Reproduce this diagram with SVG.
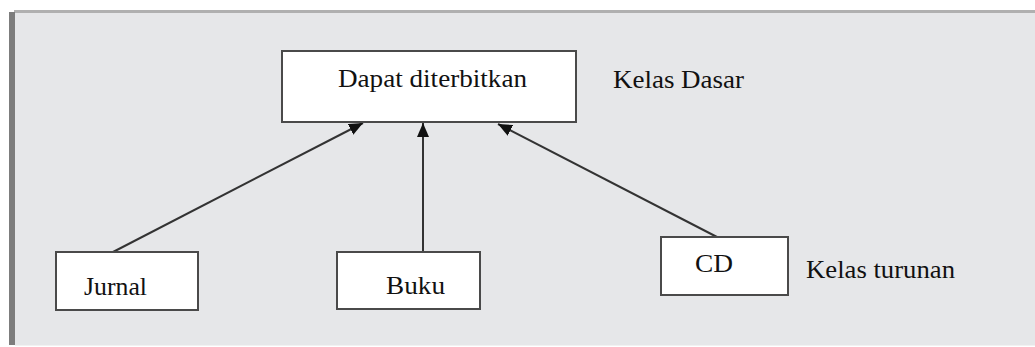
<svg xmlns="http://www.w3.org/2000/svg" width="1035" height="347" viewBox="0 0 1035 347">
<style>
.box{fill:#ffffff;stroke:#4a4a4a;stroke-width:2}
.lbl{font-size:26px;fill:#111111}
.edge{stroke:#333333;stroke-width:2;fill:none}
</style>
<defs>
<marker id="arr" viewBox="0 0 14 12" refX="14" refY="6" markerWidth="14" markerHeight="12" markerUnits="userSpaceOnUse" orient="auto">
<path d="M0,0 L14,6 L0,12 Z" fill="#111111"/>
</marker>
</defs>
<rect x="0" y="0" width="1035" height="347" fill="#ffffff"/>
<rect x="14" y="12" width="1021" height="333" fill="#e6e7e9"/>
<line x1="14" y1="11.5" x2="1035" y2="11.5" stroke="#b0b0b0" stroke-width="3"/>
<rect x="9" y="12" width="6" height="333" fill="#7d7d7d"/>
<line x1="15" y1="345.5" x2="1035" y2="345.5" stroke="#f2f2f2" stroke-width="1"/>
<g id="connectors">
<line class="edge" x1="113" y1="252" x2="363" y2="123" marker-end="url(#arr)"/>
<line class="edge" x1="423" y1="252" x2="423" y2="123" marker-end="url(#arr)"/>
<line class="edge" x1="717" y1="237" x2="498" y2="124" marker-end="url(#arr)"/>
</g>
<g id="node-base">
<rect class="box" x="282" y="51" width="294" height="71"/>
<text class="lbl" font-family="Liberation Serif, DejaVu Serif, serif" x="338" y="87" textLength="189" lengthAdjust="spacingAndGlyphs">Dapat diterbitkan</text>
</g>
<g id="label-base">
<text class="lbl" font-family="Liberation Serif, DejaVu Serif, serif" x="613" y="88" textLength="131" lengthAdjust="spacingAndGlyphs">Kelas Dasar</text>
</g>
<g id="node-jurnal">
<rect class="box" x="56" y="252" width="142" height="58"/>
<text class="lbl" font-family="Liberation Serif, DejaVu Serif, serif" x="84" y="295" textLength="63" lengthAdjust="spacingAndGlyphs">Jurnal</text>
</g>
<g id="node-buku">
<rect class="box" x="337" y="252" width="143" height="57"/>
<text class="lbl" font-family="Liberation Serif, DejaVu Serif, serif" x="386" y="294" textLength="59" lengthAdjust="spacingAndGlyphs">Buku</text>
</g>
<g id="node-cd">
<rect class="box" x="661" y="237" width="127" height="58"/>
<text class="lbl" font-family="Liberation Serif, DejaVu Serif, serif" x="695" y="272" textLength="38" lengthAdjust="spacingAndGlyphs">CD</text>
</g>
<g id="label-derived">
<text class="lbl" font-family="Liberation Serif, DejaVu Serif, serif" x="806" y="278" textLength="149" lengthAdjust="spacingAndGlyphs">Kelas turunan</text>
</g>
</svg>
